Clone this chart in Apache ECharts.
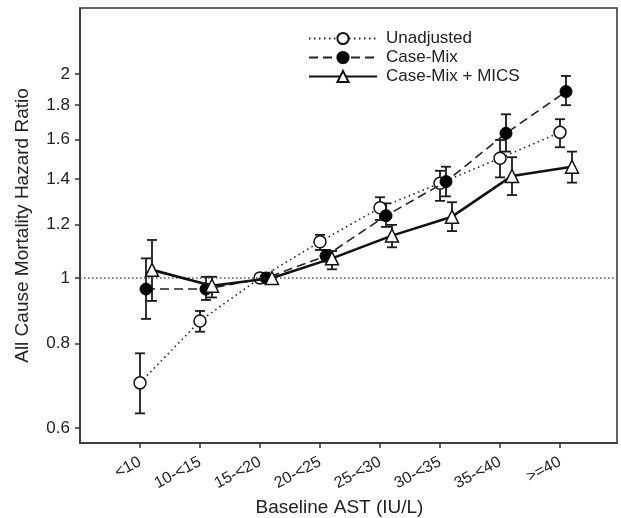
<!DOCTYPE html>
<html>
<head>
<meta charset="utf-8">
<script src="https://cdn.jsdelivr.net/npm/echarts@6/dist/echarts.min.js"></script>
<style>
  html, body { margin: 0; padding: 0; background: #fff; }
  #chart { width: 621px; height: 518px; }
</style>
</head>
<body>
<div id="chart"></div>
<script>
const categories = ['<10', '10-<15', '15-<20', '20-<25', '25-<30', '30-<35', '35-<40', '>=40'];

const unadjusted = [0.70, 0.864, 1.0, 1.131, 1.27, 1.38, 1.503, 1.641];
const unadjLow   = [0.631, 0.833, null, 1.10, 1.218, 1.30, 1.408, 1.56];
const unadjHigh  = [0.774, 0.894, null, 1.158, 1.316, 1.44, 1.599, 1.716];

const caseMix    = [0.963, 0.963, 1.0, 1.078, 1.236, 1.388, 1.636, 1.885];
const caseLow    = [0.870, 0.928, null, 1.057, 1.19, 1.32, 1.537, 1.80];
const caseHigh   = [1.069, 1.004, null, 1.10, 1.289, 1.46, 1.745, 1.988];

const mics       = [1.028, 0.974, 1.0, 1.069, 1.155, 1.232, 1.415, 1.46];
const micsLow    = [0.925, 0.936, null, 1.030, 1.110, 1.173, 1.326, 1.383];
const micsHigh   = [1.138, 1.004, null, 1.096, 1.198, 1.294, 1.508, 1.537];

const yTicks = [0.6, 0.8, 1, 1.2, 1.4, 1.6, 1.8, 2];

const font = 'Liberation Sans, Arial, sans-serif';
const ink = '#222';

// small horizontal shift so the three series don't overlap
function points(values, shift) {
    return values.map((v, i) => [i + shift, v]);
}
function bars(low, high, shift) {
    let out = [];
    low.forEach((l, i) => {
        if (l != null) out.push([i + shift, l, high[i]]);
    });
    return out;
}

function errorBar(params, api) {
    let x = api.value(0);
    let lo = api.coord([x, api.value(1)]);
    let hi = api.coord([x, api.value(2)]);
    let w = 5;
    let style = { stroke: '#1a1a1a', lineWidth: 1.8 };
    return {
        type: 'group',
        children: [
            { type: 'line', shape: { x1: lo[0], y1: lo[1], x2: hi[0], y2: hi[1] }, style: style },
            { type: 'line', shape: { x1: lo[0] - w, y1: lo[1], x2: lo[0] + w, y2: lo[1] }, style: style },
            { type: 'line', shape: { x1: hi[0] - w, y1: hi[1], x2: hi[0] + w, y2: hi[1] }, style: style }
        ]
    };
}

let option = {
    animation: false,
    backgroundColor: '#fff',
    textStyle: { fontFamily: font },
    grid: {
        left: 80,
        top: 8,
        right: 4,
        bottom: 75,
        outerBoundsMode: 'none',
        show: true,
        borderColor: '#333',
        borderWidth: 1.5
    },
    legend: {
        orient: 'vertical',
        left: 303,
        top: 25,
        itemWidth: 68,
        itemHeight: 14,
        itemGap: 2,
        textStyle: { fontSize: 17, color: ink, fontFamily: font, padding: [0, 0, 0, 4] },
        data: ['Unadjusted', 'Case-Mix', 'Case-Mix + MICS']
    },
    xAxis: {
        type: 'value',
        min: -1,
        max: 7.95,
        name: 'Baseline AST (IU/L)',
        nameLocation: 'middle',
        nameGap: 55,
        nameTextStyle: { fontSize: 19, color: ink, padding: [0, 18, 0, 0] },
        splitLine: { show: false },
        axisLine: { onZero: false, lineStyle: { color: '#333', width: 1.5 } },
        axisTick: {
            length: 5,
            customValues: categories.map((c, i) => i),
            lineStyle: { color: '#333', width: 1.5 }
        },
        axisLabel: {
            customValues: categories.map((c, i) => i),
            rotate: 28,
            margin: 18,
            fontSize: 16,
            color: ink,
            formatter: v => categories[Math.round(v)]
        }
    },
    yAxis: {
        type: 'log',
        logBase: 10,
        min: 0.5705,
        max: 2.505,
        name: 'All Cause Mortality Hazard Ratio',
        nameLocation: 'middle',
        nameGap: 48,
        nameTextStyle: { fontSize: 19, color: ink },
        splitLine: { show: false },
        axisLine: { show: true, onZero: false, lineStyle: { color: '#333', width: 1.5 } },
        axisTick: {
            length: 5,
            customValues: yTicks,
            lineStyle: { color: '#333', width: 1.5 }
        },
        axisLabel: {
            customValues: yTicks,
            margin: 10,
            fontSize: 17,
            color: ink,
            formatter: v => String(Math.round(v * 10) / 10)
        }
    },
    series: [
        {
            type: 'custom',
            renderItem: errorBar,
            data: bars(unadjLow, unadjHigh, 0),
            encode: { x: 0, y: [1, 2] },
            z: 1,
            silent: true
        },
        {
            type: 'custom',
            renderItem: errorBar,
            data: bars(caseLow, caseHigh, 0.1),
            encode: { x: 0, y: [1, 2] },
            z: 1,
            silent: true
        },
        {
            type: 'custom',
            renderItem: errorBar,
            data: bars(micsLow, micsHigh, 0.2),
            encode: { x: 0, y: [1, 2] },
            z: 1,
            silent: true
        },
        {
            name: 'Unadjusted',
            type: 'line',
            data: points(unadjusted, 0),
            symbol: 'circle',
            symbolSize: 12,
            lineStyle: { color: '#222', width: 1.6, type: [1.5, 3.5] },
            itemStyle: { color: '#fff', borderColor: '#111', borderWidth: 1.5 },
            z: 3,
            markLine: {
                silent: true,
                symbol: 'none',
                label: { show: false },
                lineStyle: { color: '#555', width: 1.5, type: [1.5, 2.5] },
                data: [{ yAxis: 1 }]
            }
        },
        {
            name: 'Case-Mix',
            type: 'line',
            data: points(caseMix, 0.1),
            symbol: 'circle',
            symbolSize: 12,
            lineStyle: { color: '#222', width: 1.6, type: [9, 5] },
            itemStyle: { color: '#000', borderColor: '#000', borderWidth: 1 },
            z: 4
        },
        {
            name: 'Case-Mix + MICS',
            type: 'line',
            data: points(mics, 0.2),
            symbol: 'triangle',
            symbolSize: 13,
            lineStyle: { color: '#111', width: 2.6 },
            itemStyle: { color: '#fff', borderColor: '#111', borderWidth: 1.5 },
            z: 5
        }
    ]
};

let myChart = echarts.init(document.getElementById('chart'));
myChart.setOption(option);
</script>
</body>
</html>
